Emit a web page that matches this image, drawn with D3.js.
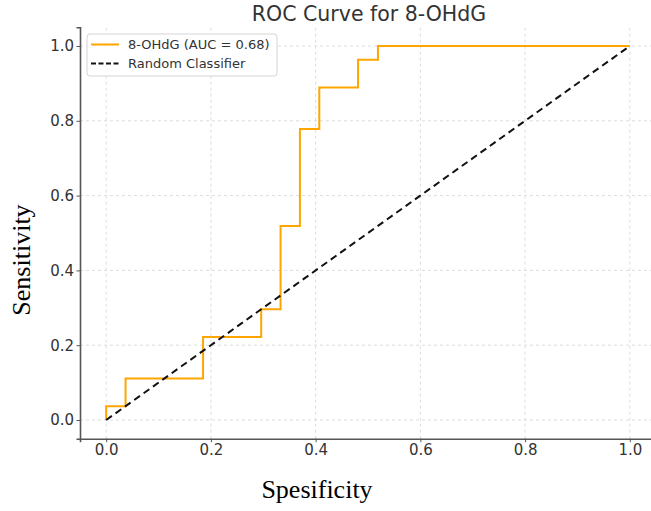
<!DOCTYPE html>
<html><head><meta charset="utf-8">
<script src="https://cdn.jsdelivr.net/npm/d3@7"></script>
<style>body{margin:0;background:#fff}svg{display:block}</style>
</head><body>
<svg id="c" width="651" height="511"></svg>
<script>
const fpr = [0, 0, 0.037, 0.037, 0.185, 0.185, 0.296, 0.296, 0.333, 0.333, 0.370, 0.370, 0.407, 0.407, 0.481, 0.481, 0.519, 0.519, 1.0];
const tpr = [0, 0.037, 0.037, 0.111, 0.111, 0.222, 0.222, 0.296, 0.296, 0.519, 0.519, 0.778, 0.778, 0.889, 0.889, 0.963, 0.963, 1.0, 1.0];
const diagX = [0, 1];
const diagY = [0, 1];
const ticks = [0, 0.2, 0.4, 0.6, 0.8, 1.0];
const curveLabel = "8-OHdG (AUC = 0.68)";
const diagLabel = "Random Classifier";

const svg = d3.select("#c");
const x = d3.scaleLinear().domain([-0.05, 1.05]).range([80, 656]);
const y = d3.scaleLinear().domain([-0.05, 1.05]).range([438.7, 27.3]);

// grid
const g = svg.append("g");
g.selectAll(".gx").data(ticks).join("line")
  .attr("x1", d => x(d)).attr("x2", d => x(d)).attr("y1", y(-0.05)).attr("y2", y(1.05))
  .attr("stroke", "#d4d4d4").attr("stroke-width", 0.8).attr("stroke-dasharray", "3,3");
g.selectAll(".gy").data(ticks).join("line")
  .attr("y1", d => y(d)).attr("y2", d => y(d)).attr("x1", x(-0.05)).attr("x2", x(1.05))
  .attr("stroke", "#d4d4d4").attr("stroke-width", 0.8).attr("stroke-dasharray", "3,3");

// lines
const line = d3.line().x(d => x(d[0])).y(d => y(d[1]));
svg.append("path").datum(fpr.map((v, i) => [v, tpr[i]]))
  .attr("d", line).attr("fill", "none").attr("stroke", "#FFA500").attr("stroke-width", 2);
svg.append("path").datum(diagX.map((v, i) => [v, diagY[i]]))
  .attr("d", line).attr("fill", "none").attr("stroke", "#111").attr("stroke-width", 2)
  .attr("stroke-dasharray", "7,4.5");

// axes
const fmt = d3.format(".1f");
const xa = svg.append("g").attr("transform", `translate(0,${y(-0.05)})`)
  .call(d3.axisBottom(x).tickValues(ticks).tickFormat(fmt).tickSize(3.5).tickPadding(2));
const ya = svg.append("g").attr("transform", `translate(${x(-0.05)},0)`)
  .call(d3.axisLeft(y).tickValues(ticks).tickFormat(fmt).tickSize(3.5).tickPadding(2.5));
[xa, ya].forEach(a => {
  a.select(".domain").attr("stroke", "#555").attr("stroke-width", 1.6);
  a.selectAll(".tick line").attr("stroke", "#555");
  a.selectAll("text").attr("font-family", "DejaVu Sans").attr("font-size", 15).attr("fill", "#333");
});

// title
svg.append("text").attr("x", 369).attr("y", 21).attr("text-anchor", "middle")
  .attr("font-family", "DejaVu Sans").attr("font-size", 20.5).attr("fill", "#333").text("ROC Curve for 8-OHdG");
// axis labels
svg.append("text").attr("x", 317).attr("y", 498).attr("text-anchor", "middle")
  .attr("font-family", "Liberation Serif").attr("font-size", 26).attr("fill", "#000").text("Spesificity");
svg.append("text").attr("transform", "translate(30,260) rotate(-90)").attr("text-anchor", "middle")
  .attr("font-family", "Liberation Serif").attr("font-size", 26).attr("fill", "#000").text("Sensitivity");

// legend
const lg = svg.append("g");
lg.append("rect").attr("x", 87).attr("y", 34).attr("width", 190).attr("height", 42).attr("rx", 3)
  .attr("fill", "#fff").attr("fill-opacity", 0.85).attr("stroke", "#d5d5d5");
const items = [{label: curveLabel, color: "#FFA500", dash: null}, {label: diagLabel, color: "#111", dash: "5,2.5"}];
items.forEach((it, i) => {
  const yy = 44.5 + i * 19;
  lg.append("line").attr("x1", 91).attr("x2", 119).attr("y1", yy).attr("y2", yy)
    .attr("stroke", it.color).attr("stroke-width", 2).attr("stroke-dasharray", it.dash);
  lg.append("text").attr("x", 128).attr("y", yy + 4.5).attr("font-family", "DejaVu Sans").attr("font-size", 13)
    .attr("fill", "#333").text(it.label);
});
</script>
</body></html>
